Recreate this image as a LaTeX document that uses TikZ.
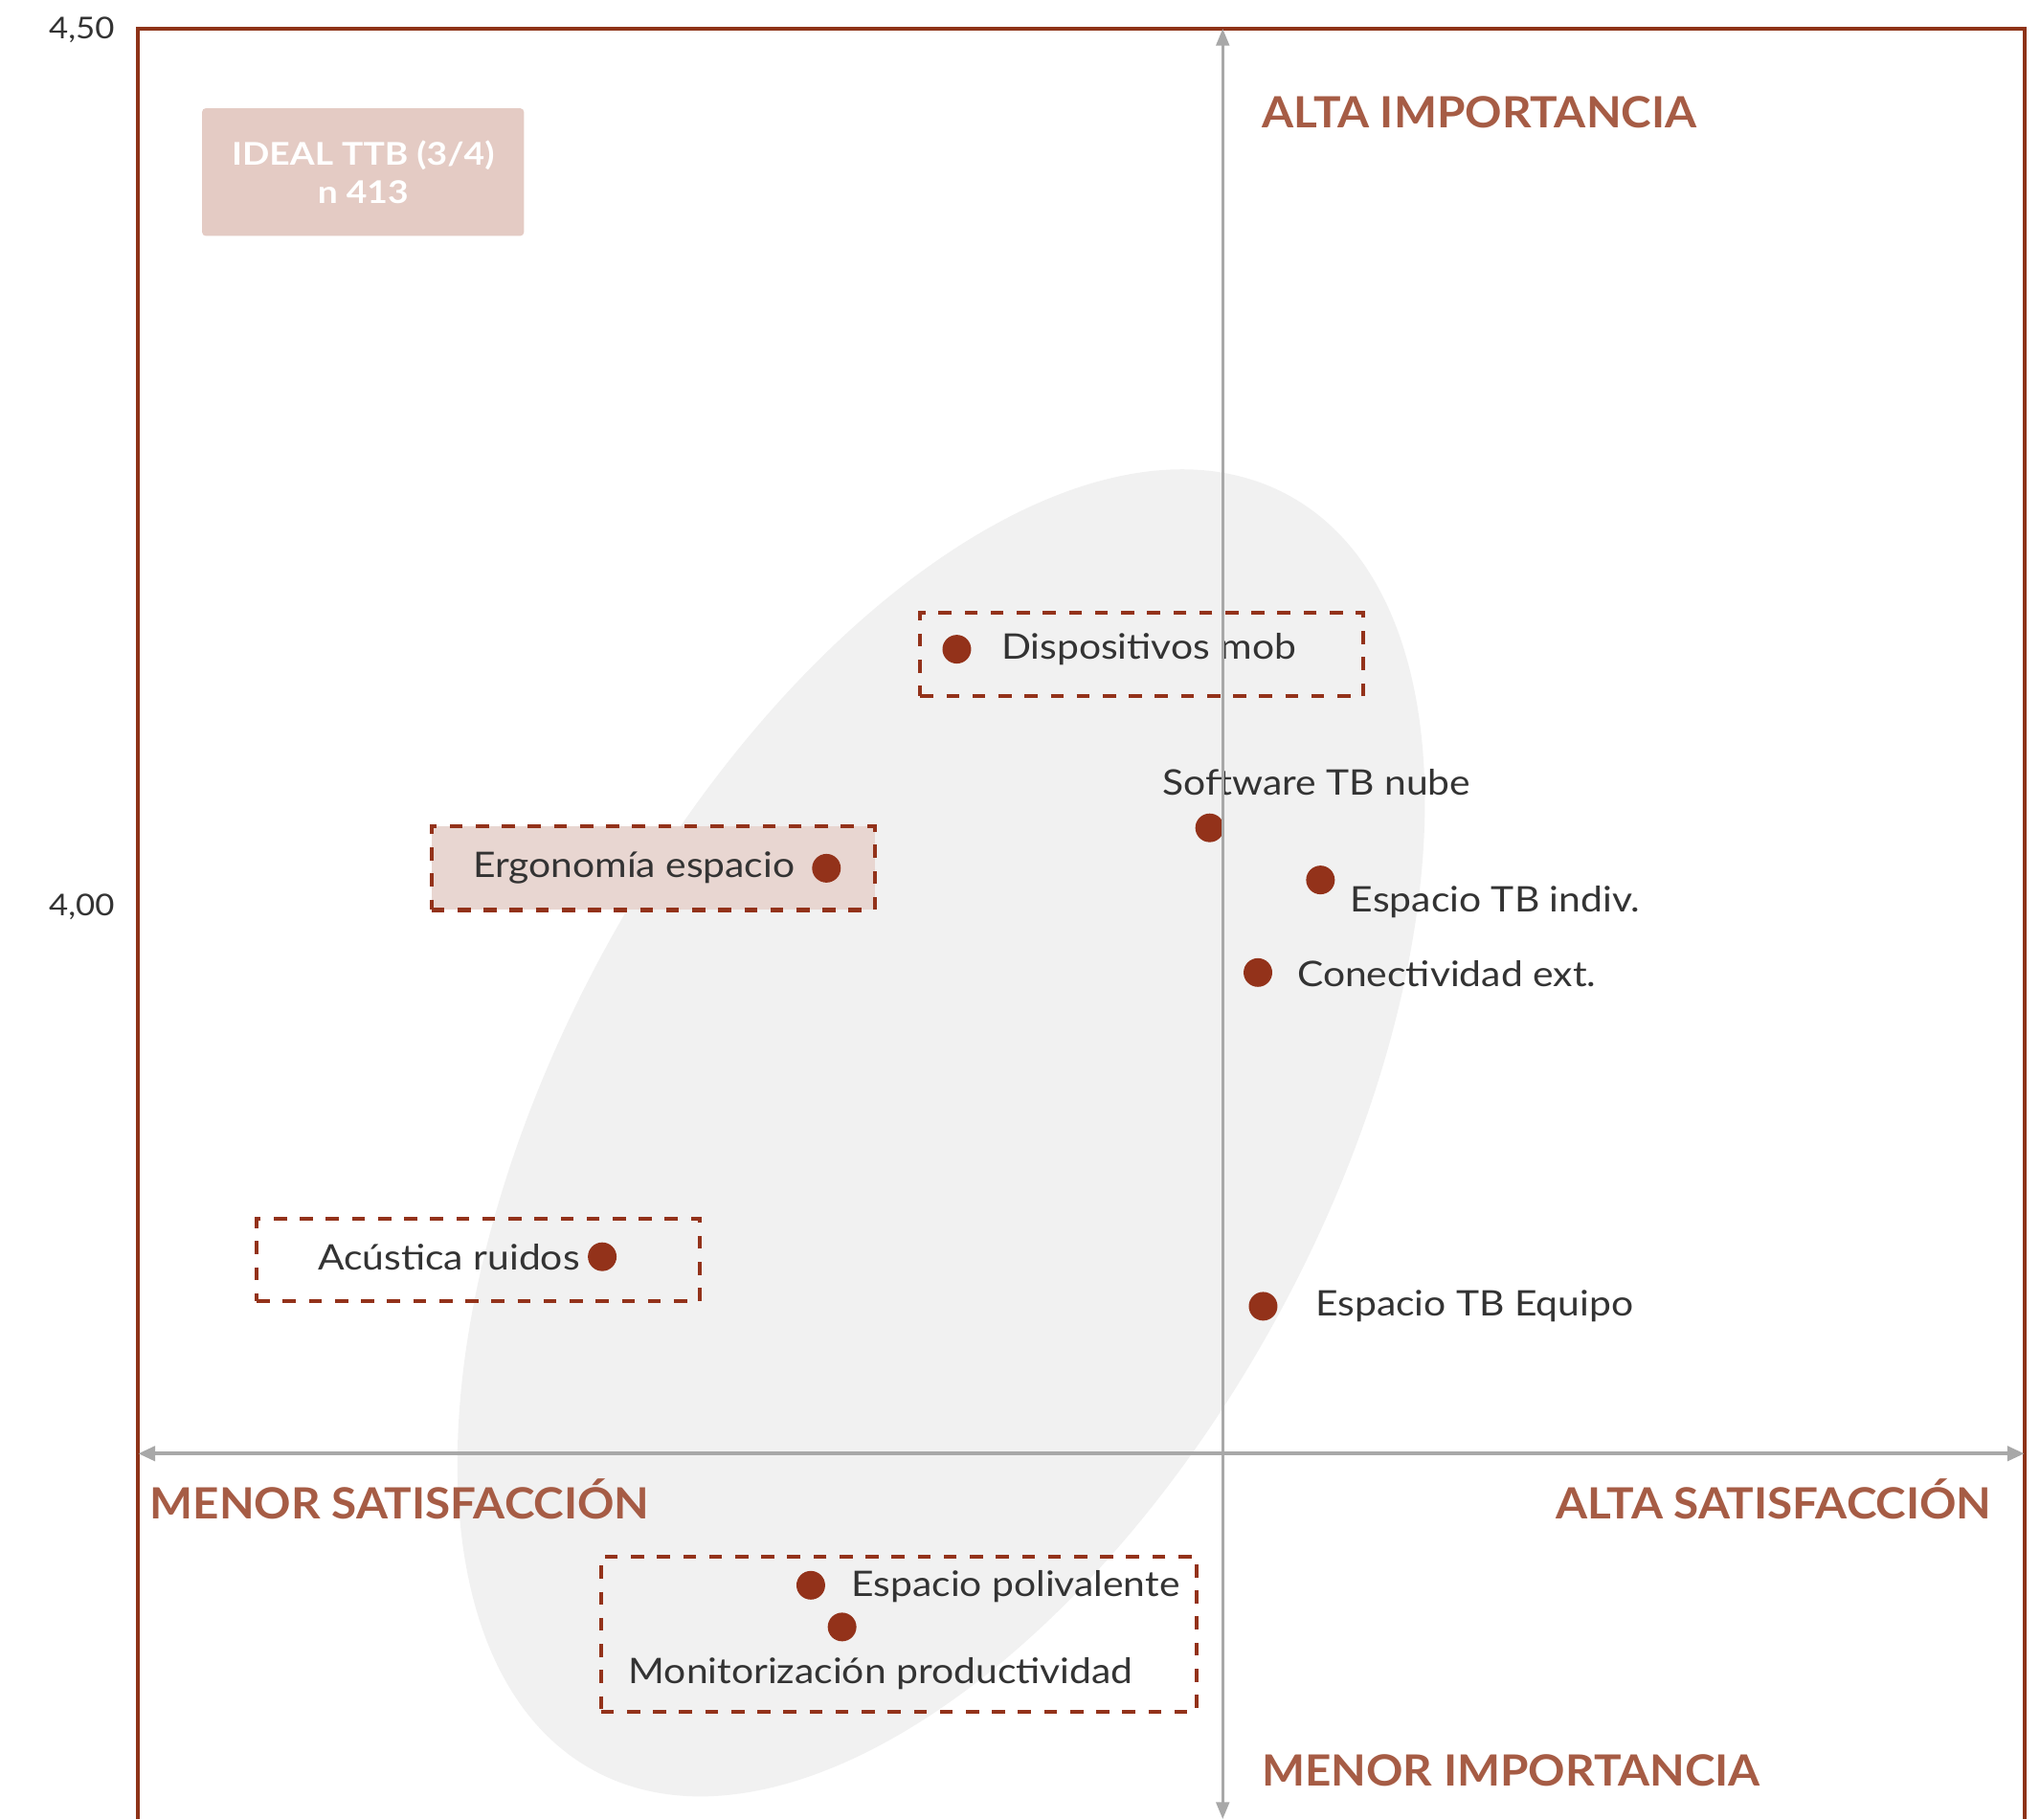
\documentclass[tikz,border=0pt]{standalone}
\usepackage{fontspec}
\setmainfont{Lato}[FakeStretch=1.11]
\newfontfamily\hfont{Lato}[FakeStretch=1.06]
\newfontfamily\ifont{Lato}[FakeStretch=1.14]
\usetikzlibrary{arrows.meta}
\definecolor{framec}{HTML}{8E3318}
\definecolor{dotc}{HTML}{93321A}
\definecolor{headc}{HTML}{A65C45}
\definecolor{txtc}{HTML}{333333}
\definecolor{axisc}{HTML}{A8A8A8}
\definecolor{ellc}{HTML}{F1F1F1}
\definecolor{idealc}{HTML}{E4CBC4}
\definecolor{ergoc}{HTML}{E8D6D1}
\tikzset{
  lbl/.style={inner sep=0pt, text=txtc, font=\fontsize{27}{32}\selectfont},
  ticklbl/.style={inner sep=0pt, text=txtc, anchor=east, font=\fontsize{23}{28}\selectfont},
  headlbl/.style={inner sep=0pt, text=headc, font=\hfont\fontsize{33}{38}\selectfont\bfseries},
  dotmark/.style={circle, fill=dotc, minimum size=22pt, inner sep=0pt},
  dashbox/.style={draw=dotc, line width=3pt, dash pattern=on 10pt off 10pt},
  axisline/.style={draw=axisc, line width=2.2pt}
}
\begin{document}
\begin{tikzpicture}[x=1pt,y=-1pt]
\useasboundingbox (0,0) rectangle (1565,1395.4);
% ellipse
\fill[ellc, rotate around={61.4:(722,869)}] (722,869) ellipse [x radius=557pt, y radius=294pt];
% frame
\draw[framec, line width=3pt] (106,1395.4) -- (106,22) -- (1553,22) -- (1553,1395.4);
% tick labels
\node[ticklbl] (t450) at (88,23) {4,50};
\node[ticklbl] (t400) at (88,696) {4,00};
% ideal box
\node[fill=idealc, rounded corners=3pt, minimum width=247pt, minimum height=98pt, inner sep=0pt,
      text=white, align=center, font=\ifont\fontsize{24}{29}\selectfont\bfseries] (ideal) at (278.5,132) {IDEAL TTB (3/4)\\n 413};
% dashed boxes
\node[dashbox, fill=ergoc, minimum width=340pt, minimum height=64pt, inner sep=0pt] (boxergo) at (501,666) {};
\node[dashbox, minimum width=340pt, minimum height=64pt, inner sep=0pt] (boxdisp) at (876,502) {};
\node[dashbox, minimum width=340pt, minimum height=63pt, inner sep=0pt] (boxacu) at (367,966.5) {};
\node[dashbox, minimum width=457pt, minimum height=119pt, inner sep=0pt] (boxmon) at (689.5,1253.5) {};
% dots
\node[dotmark] (dDisp) at (734,498) {};
\node[dotmark] (dSoft) at (928,635) {};
\node[dotmark] (dInd) at (1013,675) {};
\node[dotmark] (dCon) at (965,746) {};
\node[dotmark] (dEq) at (969,1002) {};
\node[dotmark] (dErg) at (634,666) {};
\node[dotmark] (dAcu) at (462,964) {};
\node[dotmark] (dPol) at (622,1216) {};
\node[dotmark] (dMon) at (646,1248) {};
% labels
\node[lbl, anchor=west] (lDisp) at (768,498) {Dispositivos mob};
\node[lbl] (lSoft) at (1010,600) {Software TB nube};
\node[lbl, anchor=west] (lInd) at (1036,692) {Espacio TB indiv.};
\node[lbl, anchor=west] (lCon) at (995,747) {Conectividad ext.};
\node[lbl, anchor=west] (lEq) at (1009,1002) {Espacio TB Equipo};
\node[lbl, anchor=east] (lErg) at (610,666) {Ergonomía espacio};
\node[lbl, anchor=east] (lAcu) at (445,964) {Acústica ruidos};
\node[lbl, anchor=west] (lPol) at (653,1217) {Espacio polivalente};
\node[lbl, anchor=west] (lMon) at (482,1284) {Monitorización productividad};
% headers
\node[headlbl, anchor=west] (hAI) at (968,86) {ALTA IMPORTANCIA};
\node[headlbl, anchor=west] (hMS) at (115,1150) {MENOR SATISFACCIÓN};
\node[headlbl, anchor=east] (hAS) at (1528,1150) {ALTA SATISFACCIÓN};
\node[headlbl, anchor=west] (hMI) at (968,1358) {MENOR IMPORTANCIA};
% axes
\coordinate (vTop) at (938,22);
\coordinate (vBot) at (938,1395.4);
\coordinate (hL) at (106,1115);
\coordinate (hR) at (1553,1115);
\draw[axisline, {Triangle[length=13pt,width=10pt]}-{Triangle[length=13pt,width=10pt]}] (vBot) -- (vTop);
\draw[axisline, line width=3pt, {Triangle[length=13pt,width=11pt]}-{Triangle[length=13pt,width=11pt]}] (hL) -- (hR);
\end{tikzpicture}
\end{document}
